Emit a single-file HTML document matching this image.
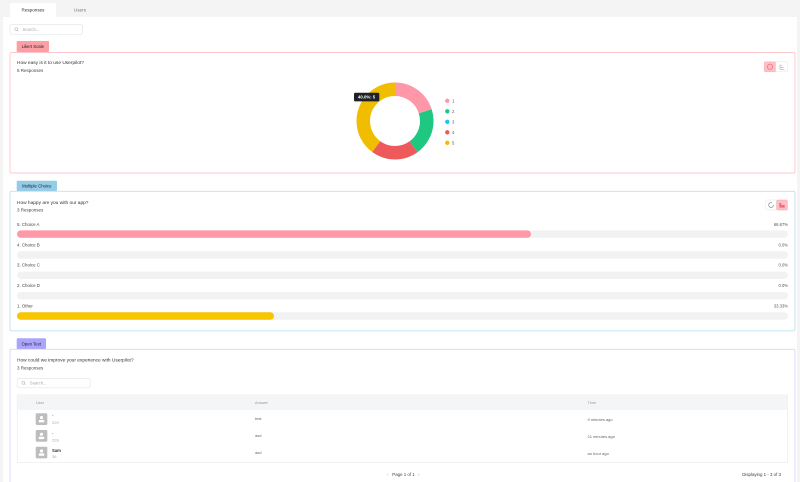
<!DOCTYPE html>
<html><head><meta charset="utf-8"><style>
html,body{margin:0;padding:0;background:#f4f4f4;}
svg{display:block;font-family:"Liberation Sans",Arial,sans-serif;}
</style></head><body>
<svg width="800" height="482" viewBox="0 0 800 482" xmlns="http://www.w3.org/2000/svg">
<rect x="0" y="0" width="800" height="482" fill="#f4f4f4"/>
<!-- tabs -->
<rect x="10" y="3" width="46" height="15" fill="#ffffff"/>
<text x="33" y="11.3" font-size="4.6" fill="#333" text-anchor="middle">Responses</text>
<text x="80" y="11.3" font-size="4.6" fill="#777" text-anchor="middle">Users</text>
<!-- main white panel -->
<rect x="3" y="17" width="794" height="470" fill="#ffffff"/>
<!-- top search -->
<rect x="10" y="24.5" width="72.5" height="9.8" rx="2" fill="#fff" stroke="#e3e6ea" stroke-width="0.7"/>
<circle cx="16.3" cy="29.2" r="1.5" fill="none" stroke="#999" stroke-width="0.5"/>
<line x1="17.4" y1="30.3" x2="18.3" y2="31.2" stroke="#999" stroke-width="0.5"/>
<text x="22.5" y="30.9" font-size="4.2" fill="#aaa">Search...</text>

<!-- ===== Likert box ===== -->
<rect x="16.7" y="41" width="32.3" height="11" rx="1" fill="#fd9ea5"/>
<text x="32.8" y="48.2" font-size="4.3" fill="#222" text-anchor="middle">Likert Scale</text>
<rect x="10" y="52.5" width="785" height="120.5" rx="1.5" fill="none" stroke="#fdc8cc" stroke-width="0.9"/>
<text x="17" y="63.8" font-size="4.8" fill="#333">How easy is it to use Userpilot?</text>
<text x="17" y="72.2" font-size="4.5" fill="#444">5 Responses</text>
<!-- toggles -->
<rect x="764.3" y="61.8" width="11.4" height="10" rx="1" fill="#fdc0c5" stroke="#fcaab2" stroke-width="0.5"/>
<circle cx="770" cy="66.8" r="2.6" fill="none" stroke="#f27b88" stroke-width="0.9"/>
<rect x="775.8" y="61.8" width="11.6" height="10" rx="1" fill="#fff" stroke="#e4e4e4" stroke-width="0.5"/>
<line x1="780" y1="64.5" x2="780" y2="69.3" stroke="#999" stroke-width="0.5"/>
<line x1="780" y1="69.3" x2="784.5" y2="69.3" stroke="#999" stroke-width="0.5"/>
<line x1="780.6" y1="67.5" x2="783.5" y2="67.5" stroke="#999" stroke-width="0.6"/>
<line x1="780.6" y1="65.8" x2="782" y2="65.8" stroke="#999" stroke-width="0.6"/>
<!-- donut -->
<g transform="rotate(-90 395 121)">
<circle cx="395" cy="121" r="31.75" fill="none" stroke="#fe98a8" stroke-width="13.5" stroke-dasharray="39.9 159.6" stroke-dashoffset="0"/>
<circle cx="395" cy="121" r="31.75" fill="none" stroke="#1fc880" stroke-width="13.5" stroke-dasharray="0 39.9 39.9 119.7"/>
<circle cx="395" cy="121" r="31.75" fill="none" stroke="#ee5a5b" stroke-width="13.5" stroke-dasharray="0 79.8 39.9 79.8"/>
<circle cx="395" cy="121" r="31.75" fill="none" stroke="#f1bd00" stroke-width="13.5" stroke-dasharray="0 119.7 79.8 0"/>
</g>
<!-- tooltip -->
<rect x="354" y="92.8" width="25.3" height="8.6" rx="1.2" fill="#1e2227"/>
<text x="366.6" y="98.6" font-size="4.3" fill="#fff" text-anchor="middle" font-weight="bold">40.0%: 5</text>
<!-- legend -->
<circle cx="447.3" cy="100.8" r="2.2" fill="#fe98a8"/>
<text x="452" y="102.3" font-size="4.2" fill="#555">1</text>
<circle cx="447.3" cy="111.3" r="2.2" fill="#1fc880"/>
<text x="452" y="112.8" font-size="4.2" fill="#555">2</text>
<circle cx="447.3" cy="121.8" r="2.2" fill="#1cc6ef"/>
<text x="452" y="123.3" font-size="4.2" fill="#555">3</text>
<circle cx="447.3" cy="132.3" r="2.2" fill="#ee5a5b"/>
<text x="452" y="133.8" font-size="4.2" fill="#555">4</text>
<circle cx="447.3" cy="142.8" r="2.2" fill="#f1bd00"/>
<text x="452" y="144.3" font-size="4.2" fill="#555">5</text>

<!-- ===== Multiple Choice box ===== -->
<rect x="16.7" y="180.7" width="40.3" height="10.3" rx="1" fill="#93cce6"/>
<text x="36.8" y="187.6" font-size="4.3" fill="#223" text-anchor="middle">Multiple Choice</text>
<rect x="10" y="191.3" width="785" height="139.5" rx="1.5" fill="none" stroke="#bfe0ef" stroke-width="0.9"/>
<text x="17" y="203.8" font-size="4.8" fill="#333">How happy are you with our app?</text>
<text x="17" y="211.3" font-size="4.5" fill="#444">3 Responses</text>
<!-- toggles -->
<rect x="765.8" y="200" width="10.6" height="10" rx="1" fill="#fff" stroke="#e4e4e4" stroke-width="0.5"/>
<circle cx="771.1" cy="205" r="2.4" fill="none" stroke="#888" stroke-width="0.7" stroke-dasharray="12 3"/>
<rect x="776.8" y="200" width="10.6" height="10" rx="1" fill="#fdc0c5" stroke="#f7a0aa" stroke-width="0.5"/>
<rect x="779.3" y="203" width="2" height="4.6" fill="#ee6d7c"/>
<rect x="781.3" y="205" width="3.4" height="2.6" fill="#ee6d7c"/>
<!-- bars -->
<text x="17" y="226" font-size="4.4" fill="#444">5. Choice A</text>
<text x="788" y="226" font-size="4.2" fill="#555" text-anchor="end">66.67%</text>
<rect x="17" y="230.4" width="771" height="7.4" rx="3.7" fill="#f2f2f2"/>
<rect x="17" y="230.4" width="514" height="7.4" rx="3.7" fill="#fe98a8"/>

<text x="17" y="246.4" font-size="4.4" fill="#444">4. Choice B</text>
<text x="788" y="246.4" font-size="4.2" fill="#555" text-anchor="end">0.0%</text>
<rect x="17" y="251.3" width="771" height="7.4" rx="3.7" fill="#f2f2f2"/>

<text x="17" y="266.7" font-size="4.4" fill="#444">3. Choice C</text>
<text x="788" y="266.7" font-size="4.2" fill="#555" text-anchor="end">0.0%</text>
<rect x="17" y="271.6" width="771" height="7.4" rx="3.7" fill="#f2f2f2"/>

<text x="17" y="287" font-size="4.4" fill="#444">2. Choice D</text>
<text x="788" y="287" font-size="4.2" fill="#555" text-anchor="end">0.0%</text>
<rect x="17" y="292" width="771" height="7.4" rx="3.7" fill="#f2f2f2"/>

<text x="17" y="307.4" font-size="4.4" fill="#444">1. Other</text>
<text x="788" y="307.4" font-size="4.2" fill="#555" text-anchor="end">33.33%</text>
<rect x="17" y="312.3" width="771" height="7.4" rx="3.7" fill="#f2f2f2"/>
<rect x="17" y="312.3" width="257" height="7.4" rx="3.7" fill="#f8c600"/>

<!-- ===== Open Text box ===== -->
<rect x="16.7" y="338.3" width="29.3" height="10.8" rx="1" fill="#aaa5fb"/>
<text x="31.3" y="345.5" font-size="4.3" fill="#223" text-anchor="middle">Open Text</text>
<rect x="10" y="349.3" width="785" height="145" rx="1.5" fill="none" stroke="#d9d4fb" stroke-width="0.9"/>
<text x="17" y="361.4" font-size="4.8" fill="#333">How could we improve your experience with Userpilot?</text>
<text x="17" y="369.3" font-size="4.5" fill="#444">3 Responses</text>
<rect x="17.2" y="378.4" width="73" height="9.4" rx="2" fill="#fff" stroke="#e3e6ea" stroke-width="0.7"/>
<circle cx="23.3" cy="382.8" r="1.5" fill="none" stroke="#999" stroke-width="0.5"/>
<line x1="24.4" y1="383.9" x2="25.3" y2="384.8" stroke="#999" stroke-width="0.5"/>
<text x="29.8" y="384.6" font-size="4.2" fill="#aaa">Search...</text>
<!-- table -->
<rect x="17.2" y="395" width="770.5" height="67.3" fill="#fff" stroke="#e6eaee" stroke-width="0.6"/>
<rect x="17.2" y="395" width="770.5" height="15" fill="#f3f5f7"/>
<text x="36" y="404" font-size="3.9" fill="#999">User</text>
<text x="255" y="404" font-size="3.9" fill="#999">Answer</text>
<text x="587.5" y="404" font-size="3.9" fill="#999">Time</text>
<g fill="#bdbdbd">
<rect x="35.7" y="413.3" width="11.6" height="11.7" rx="1.2"/>
<rect x="35.7" y="430" width="11.6" height="11.7" rx="1.2"/>
<rect x="35.7" y="446.7" width="11.6" height="11.7" rx="1.2"/>
</g>
<g fill="#fff">
<circle cx="41.5" cy="417.6" r="1.6"/><rect x="38.7" y="420" width="5.6" height="2.4" rx="0.8"/>
<circle cx="41.5" cy="434.3" r="1.6"/><rect x="38.7" y="436.7" width="5.6" height="2.4" rx="0.8"/>
<circle cx="41.5" cy="451" r="1.6"/><rect x="38.7" y="453.4" width="5.6" height="2.4" rx="0.8"/>
</g>
<text x="52" y="417" font-size="4.2" fill="#333">-</text>
<text x="52" y="424" font-size="4" fill="#aaa">229</text>
<text x="52" y="434.5" font-size="4.2" fill="#333">-</text>
<text x="52" y="441.5" font-size="4" fill="#aaa">228</text>
<text x="52" y="452.2" font-size="4.2" fill="#333" font-weight="bold">Sam</text>
<text x="52" y="458" font-size="4" fill="#aaa">36</text>
<text x="255" y="420.2" font-size="4" fill="#666">test</text>
<text x="255" y="437.2" font-size="4" fill="#666">asd</text>
<text x="255" y="454.2" font-size="4" fill="#666">asd</text>
<text x="587.5" y="420.8" font-size="4" fill="#666">9 minutes ago</text>
<text x="587.5" y="437.8" font-size="4" fill="#666">21 minutes ago</text>
<text x="587.5" y="454.8" font-size="4" fill="#666">an hour ago</text>
<!-- pagination -->
<text x="387" y="476" font-size="4.4" fill="#999">‹</text>
<text x="403.5" y="476" font-size="4.4" fill="#444" text-anchor="middle">Page 1 of 1</text>
<text x="418" y="476" font-size="4.4" fill="#999">›</text>
<text x="781" y="476" font-size="4.4" fill="#444" text-anchor="end">Displaying 1 - 3 of 3</text>
</svg>
</body></html>
